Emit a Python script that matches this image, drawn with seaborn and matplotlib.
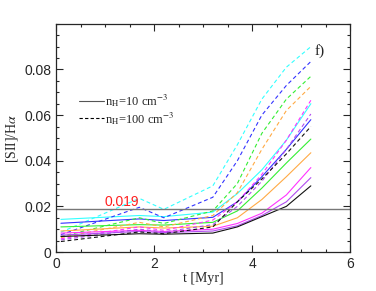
import numpy as np
import pandas as pd
import matplotlib
matplotlib.use("Agg")
import matplotlib.pyplot as plt
import seaborn as sns
from matplotlib.lines import Line2D
from matplotlib.ticker import MultipleLocator

# time grid [Myr]
t = [0.1, 1.7, 2.2, 3.2, 3.7, 4.2, 4.7, 5.2]

# [SII]/Halpha, n_H = 10 cm^-3 (solid)
solid = {
    "cyan":    [0.0143, 0.0160, 0.0155, 0.0175, 0.0256, 0.036, 0.049, 0.065],
    "blue":    [0.0126, 0.0145, 0.0138, 0.0152, 0.0220, 0.033, 0.045, 0.058],
    "green":   [0.0110, 0.0120, 0.0118, 0.0130, 0.0180, 0.028, 0.039, 0.0495],
    "orange":  [0.0092, 0.0110, 0.0105, 0.0113, 0.0150, 0.023, 0.033, 0.0435],
    "magenta": [0.0083, 0.0095, 0.0090, 0.0100, 0.0125, 0.017, 0.025, 0.037],
    "purple":  [0.0074, 0.0090, 0.0085, 0.0092, 0.0115, 0.016, 0.022, 0.0326],
    "black":   [0.0068, 0.0080, 0.0078, 0.0083, 0.0110, 0.0155, 0.020, 0.029],
}

# n_H = 100 cm^-3 (dashed)
dashed = {
    "cyan":    [0.0087, 0.0235, 0.0187, 0.029, 0.047, 0.067, 0.081, 0.090],
    "blue":    [0.0076, 0.0196, 0.0150, 0.024, 0.040, 0.060, 0.073, 0.0835],
    "green":   [0.0068, 0.0150, 0.0125, 0.018, 0.030, 0.052, 0.067, 0.077],
    "orange":  [0.0063, 0.0130, 0.0110, 0.016, 0.026, 0.045, 0.062, 0.0726],
    "magenta": [0.0058, 0.0110, 0.0095, 0.014, 0.022, 0.034, 0.049, 0.0665],
    "purple":  [0.0053, 0.0100, 0.0088, 0.012, 0.020, 0.031, 0.045, 0.0605],
    "black":   [0.0046, 0.0088, 0.0080, 0.011, 0.022, 0.032, 0.043, 0.055],
}

colors = {
    "cyan": "#33ffff", "blue": "#3333ff", "green": "#33ee33",
    "orange": "#ffaa44", "magenta": "#ff33ff", "purple": "#b04cf0",
    "black": "#111111",
}

rows = []
for dens, d in [("10", solid), ("100", dashed)]:
    for c, vals in d.items():
        for ti, v in zip(t, vals):
            rows.append({"t": ti, "ratio": v, "color": c, "nH": dens})
df = pd.DataFrame(rows)

sns.set_style("ticks")
plt.rcParams["font.family"] = ["Liberation Sans", "DejaVu Sans"]
plt.rcParams["mathtext.fontset"] = "stix"

fig = plt.figure(figsize=(3.76, 2.91), dpi=100)
ax = fig.add_axes([0.149, 0.134, 0.782, 0.784])

sns.lineplot(data=df, x="t", y="ratio", hue="color", style="nH",
             palette=colors, dashes={"10": "", "100": (3.5, 2.5)},
             linewidth=0.8, legend=False, ax=ax, estimator=None)

ax.axhline(0.019, color="#777777", lw=1.0)
ax.text(1.35, 0.0217, "0.019", color="#ff2020", fontsize=10, ha="center", va="center")
ax.text(5.27, 0.0865, "f)", fontsize=11, family="Liberation Serif")

ax.set_xlim(0, 6)
ax.set_ylim(0, 0.1)
ax.xaxis.set_major_locator(MultipleLocator(2))
ax.xaxis.set_minor_locator(MultipleLocator(0.5))
ax.yaxis.set_minor_locator(MultipleLocator(0.005))
ax.set_yticks([0, 0.02, 0.04, 0.06, 0.08])
ax.set_yticklabels(["0", "0.02", "0.04", "0.06", "0.08"])
ax.tick_params(which="both", direction="in", top=True, right=True, labelsize=10, width=0.8)
ax.tick_params(which="major", length=5)
ax.tick_params(which="minor", length=2.5)
for s in ax.spines.values():
    s.set_linewidth(0.9)

ax.set_xlabel("t [Myr]", family="Liberation Serif", fontsize=10, labelpad=1)
ax.set_ylabel(r"[SII]/H$\alpha$", family="Liberation Serif", fontsize=10, labelpad=3)

handles = [Line2D([], [], color="#555555", lw=0.8),
           Line2D([], [], color="black", lw=0.8, ls=(0, (3, 2)))]
labels = [r"n$_{\rm H}$=10 cm$^{-3}$", r"n$_{\rm H}$=100 cm$^{-3}$"]
leg = ax.legend(handles, labels, loc="upper left", bbox_to_anchor=(0.04, 0.75),
                frameon=False, handlelength=2.0, handletextpad=0.1,
                labelspacing=0.05, prop={"family": "Liberation Serif", "size": 9})

fig.savefig("out.png", dpi=100)
